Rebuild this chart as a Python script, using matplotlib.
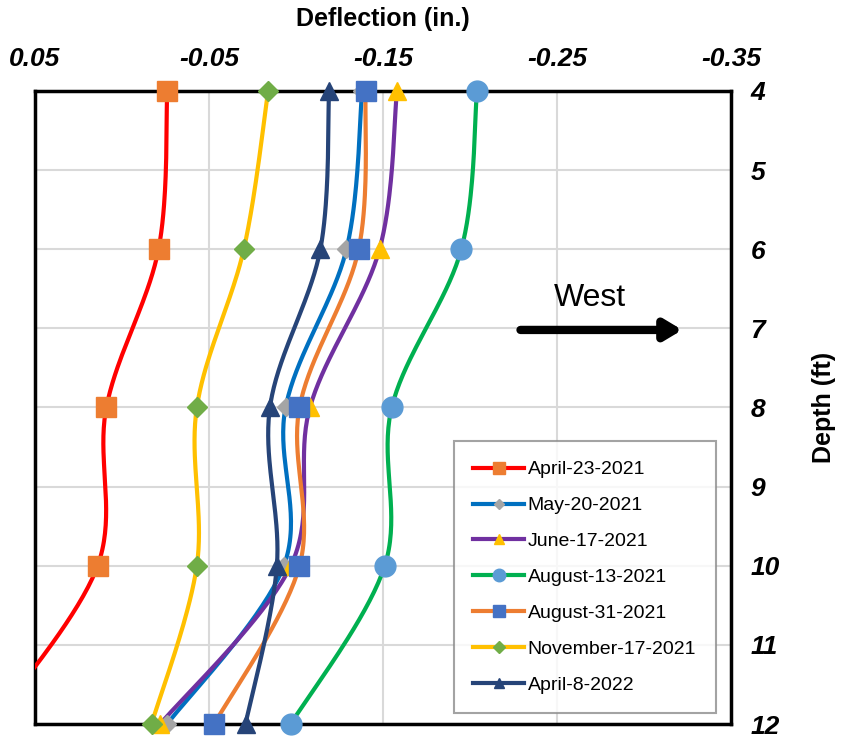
import numpy as np
import matplotlib.pyplot as plt
from matplotlib.lines import Line2D

plt.rcParams['font.family'] = ['Liberation Sans', 'DejaVu Sans']

# depth of the readings (ft) and deflection per survey date (in.)
depth = [4, 6, 8, 10, 12]
apr23_2021 = [-0.026, -0.021, 0.009, 0.014, 0.075]
may20_2021 = [-0.138, -0.129, -0.094, -0.093, -0.026]
jun17_2021 = [-0.158, -0.148, -0.108, -0.097, -0.022]
aug13_2021 = [-0.204, -0.195, -0.155, -0.151, -0.097]
aug31_2021 = [-0.140, -0.136, -0.102, -0.102, -0.053]
nov17_2021 = [-0.084, -0.070, -0.043, -0.043, -0.017]
apr8_2022 = [-0.119, -0.114, -0.085, -0.089, -0.071]

labels = ['April-23-2021', 'May-20-2021', 'June-17-2021', 'August-13-2021',
          'August-31-2021', 'November-17-2021', 'April-8-2022']
series = [apr23_2021, may20_2021, jun17_2021, aug13_2021, aug31_2021, nov17_2021, apr8_2022]

# line colour, marker, marker colour, marker size
styles = [('#FF0000', 's', '#ED7D31', 14),
          ('#0070C0', 'D', '#A5A5A5', 9),
          ('#7030A0', '^', '#FFC000', 13),
          ('#00B050', 'o', '#5B9BD5', 15),
          ('#ED7D31', 's', '#4472C4', 14),
          ('#FFC000', 'D', '#70AD47', 10),
          ('#264478', '^', '#264478', 13)]

xticks = [0.05, -0.05, -0.15, -0.25, -0.35]
xmin, xmax = 0.05, -0.35


def smooth(x, y, n=40):
    # excel-like smoothed line: bezier segments with catmull-rom control points
    pts = np.column_stack([x, y]).astype(float)
    t = np.linspace(0, 1, n)[:, None]
    out = []
    for i in range(len(pts) - 1):
        p0 = pts[max(i - 1, 0)]
        p1 = pts[i]
        p2 = pts[i + 1]
        p3 = pts[min(i + 2, len(pts) - 1)]
        c1 = p1 + (p2 - p0) / 6
        c2 = p2 - (p3 - p1) / 6
        seg = (1 - t)**3 * p1 + 3 * (1 - t)**2 * t * c1 + 3 * (1 - t) * t**2 * c2 + t**3 * p2
        out.append(seg if i == 0 else seg[1:])
    return np.vstack(out)


fig = plt.figure(figsize=(8.43, 7.36), dpi=100)
ax = fig.add_axes([0.0415, 0.0163, 0.8257, 0.8601])

handles = []
for k, (vals, lab) in enumerate(zip(series, labels)):
    lc, mk, mc, ms = styles[k]
    curve = smooth(vals, depth)
    ax.plot(curve[:, 0], curve[:, 1], color=lc, lw=3, zorder=3 + k * 0.1)
    # markers may sit on the frame, but not outside the x range
    v = np.array(vals)
    d = np.array(depth)
    inside = (v <= xmin) & (v >= xmax)
    ax.plot(v[inside], d[inside], ls='none', marker=mk, ms=ms, mfc=mc, mec=mc,
            clip_on=False, zorder=4 + k * 0.1)
    handles.append(Line2D([], [], color=lc, lw=3, marker=mk, ms=ms * 0.6, mfc=mc, mec=mc))

ax.set_xlim(xmin, xmax)
ax.set_ylim(12, 4)
ax.set_xticks(xticks)
ax.set_xticklabels(['%.2f' % v for v in xticks])
ax.set_yticks(range(4, 13))
ax.xaxis.tick_top()
ax.xaxis.set_label_position('top')
ax.yaxis.tick_right()
ax.yaxis.set_label_position('right')
ax.tick_params(length=0, labelsize=19)
ax.tick_params(axis='x', pad=14.5)
ax.tick_params(axis='y', pad=14)
for lbl in ax.get_xticklabels() + ax.get_yticklabels():
    lbl.set_fontweight('bold')
    lbl.set_fontstyle('italic')
ax.grid(True, color='#D9D9D9', lw=1.5, zorder=0)
for sp in ax.spines.values():
    sp.set_linewidth(2.5)
    sp.set_color('black')
    sp.set_zorder(2)

ax.set_xlabel('Deflection (in.)', fontsize=18, fontweight='bold', labelpad=15)
ax.set_ylabel('Depth (ft)', fontsize=18, fontweight='bold', labelpad=23)

# direction note
ax.text(-0.269, 6.62, 'West', fontsize=23, ha='center', va='center')
ax.annotate('', xy=(-0.322, 7.02), xytext=(-0.229, 7.02),
            arrowprops=dict(arrowstyle='-|>,head_length=1.0,head_width=0.6',
                            color='black', lw=6, shrinkA=0, shrinkB=0))

leg = ax.legend(handles, labels, loc='lower right', bbox_to_anchor=(0.978, 0.017),
                borderaxespad=0, fontsize=14, frameon=True, fancybox=False,
                handlelength=2.6, handletextpad=0.2, labelspacing=0.94,
                borderpad=1.0)
leg.get_frame().set_edgecolor('#8C8C8C')
leg.get_frame().set_linewidth(1.5)
leg.set_zorder(10)

fig.savefig('out.png', dpi=100)
